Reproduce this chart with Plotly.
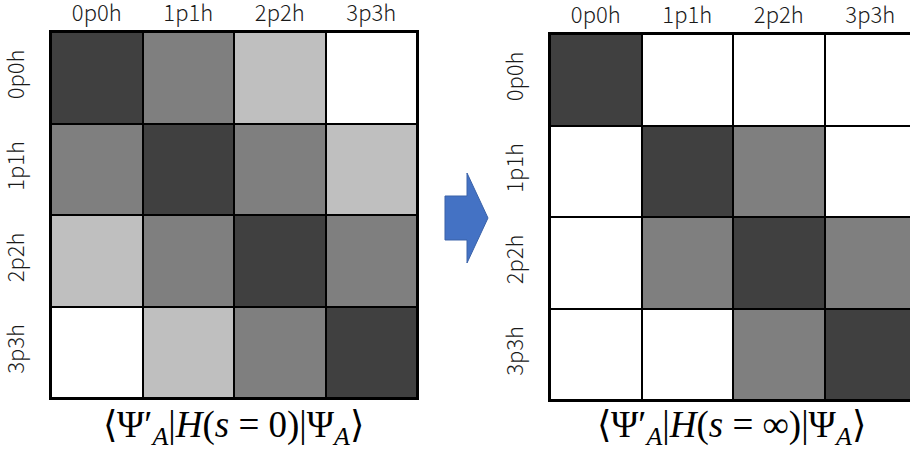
import plotly.graph_objects as go

# Basis states labelling rows and columns
states = ["0p0h", "1p1h", "2p2h", "3p3h"]

# Magnitude level of each matrix element (0 = zero, 3 = largest)
h_initial = [
    [3, 2, 1, 0],
    [2, 3, 2, 1],
    [1, 2, 3, 2],
    [0, 1, 2, 3],
]
h_final = [
    [3, 0, 0, 0],
    [0, 3, 2, 0],
    [0, 2, 3, 2],
    [0, 0, 2, 3],
]

title_initial = "⟨Ψ′<sub><i>A</i></sub>|<i>H</i>(<i>s</i> = 0)|Ψ<sub><i>A</i></sub>⟩"
title_final = "⟨Ψ′<sub><i>A</i></sub>|<i>H</i>(<i>s</i> = ∞)|Ψ<sub><i>A</i></sub>⟩"

W, H = 910, 454
grey_scale = [
    [0.0, "#ffffff"], [0.25, "#ffffff"],
    [0.25, "#bfbfbf"], [0.5, "#bfbfbf"],
    [0.5, "#7f7f7f"], [0.75, "#7f7f7f"],
    [0.75, "#404040"], [1.0, "#404040"],
]

fig = go.Figure()
idx = list(range(len(states)))
for z, xa, ya in [(h_initial, "x", "y"), (h_final, "x2", "y2")]:
    fig.add_trace(go.Heatmap(
        z=z, x=idx, y=idx, xaxis=xa, yaxis=ya,
        colorscale=grey_scale, zmin=0, zmax=3, showscale=False,
        xgap=2, ygap=2, hoverinfo="skip",
    ))

tick_font = dict(family="Noto Sans CJK JP", size=22, weight=300, color="#1a1a1a")
cell = 91.5

def xaxis(x0, x1, xmax):
    return dict(
        domain=[x0 / W, x1 / W], range=[-0.5, xmax], side="top",
        tickvals=idx, ticktext=states, tickfont=tick_font, ticks="",
        showgrid=False, zeroline=False, showline=True, mirror=True,
        linecolor="black", linewidth=2, ticklabelstandoff=0,
        automargin=False, fixedrange=True,
    )

def yaxis(y0, y1, mirror, anchor):
    return dict(
        domain=[1 - y1 / H, 1 - y0 / H], range=[3.5, -0.5], anchor=anchor,
        tickvals=idx, ticktext=states, tickfont=tick_font, ticks="",
        tickangle=-90, showgrid=False, zeroline=False, showline=True,
        mirror=mirror, linecolor="black", linewidth=2,
        ticklabelstandoff=16, automargin=False, fixedrange=True,
    )

right_x0 = 550
right_visible = (W - right_x0) / cell - 0.5

fig.update_layout(
    width=W, height=H, margin=dict(l=0, r=0, t=0, b=0, autoexpand=False),
    paper_bgcolor="white", plot_bgcolor="black", showlegend=False,
    xaxis=xaxis(51, 417, 3.5) | dict(anchor="y"),
    yaxis=yaxis(32, 398, True, "x"),
    xaxis2=xaxis(right_x0, W, right_visible) | dict(anchor="y2"),
    yaxis2=yaxis(34, 400, False, "x2"),
)

# Block arrow between the two matrices
ax = [445, 467, 467, 488, 467, 467, 445]
ay = [196, 196, 173, 218, 263, 240, 240]
path = "M " + " L ".join(f"{x / W:.5f},{1 - y / H:.5f}" for x, y in zip(ax, ay)) + " Z"
fig.add_shape(type="path", path=path, xref="paper", yref="paper",
              fillcolor="#4472C4", line=dict(color="#3a62a8", width=1))

math_font = dict(family="Liberation Serif", size=37, color="black")
for text, cx in [(title_initial, 234), (title_final, 731)]:
    fig.add_annotation(text=text, x=cx / W, y=1 - 427 / H, xref="paper",
                       yref="paper", showarrow=False, font=math_font,
                       xanchor="center", yanchor="middle")

fig.write_html("out.html")
